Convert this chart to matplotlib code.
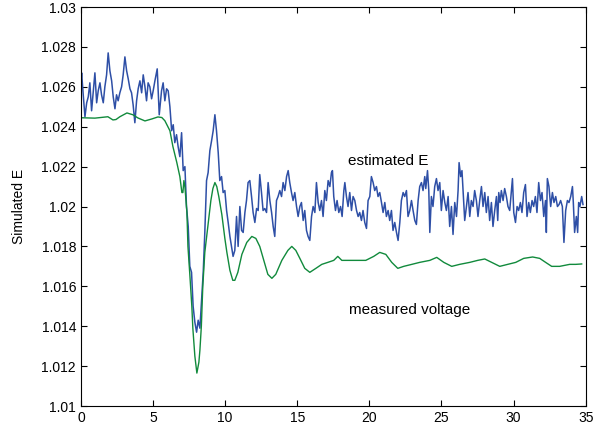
import matplotlib
matplotlib.use('Agg')
import matplotlib.pyplot as plt
from matplotlib.ticker import FormatStrFormatter

plt.rcParams['font.family'] = ['Liberation Sans', 'DejaVu Sans']

# measured voltage (smooth green trace)
meas_t = [0.0, 0.97, 1.87, 2.22, 2.43, 2.70, 3.19, 3.60, 3.95, 4.44, 4.92, 5.34, 5.61, 5.82,
          6.17, 6.38, 6.65, 6.86, 7.00, 7.07, 7.14, 7.21, 7.35, 7.42, 7.55, 7.69, 7.76, 7.90,
          8.04, 8.18, 8.25, 8.35, 8.45, 8.59, 8.80, 9.01, 9.15, 9.29, 9.42, 9.56, 9.77, 9.98,
          10.12, 10.33, 10.53, 10.67, 10.88, 11.16, 11.50, 11.85, 12.13, 12.40, 12.68, 12.96,
          13.24, 13.51, 13.93, 14.35, 14.62, 14.90, 15.18, 15.52, 15.87, 16.29, 16.70, 17.12,
          17.53, 17.81, 18.09, 18.64, 19.20, 19.75, 20.30, 20.72, 21.14, 21.55, 21.97, 22.38,
          22.94, 23.49, 24.19, 24.67, 25.16, 25.71, 26.26, 26.96, 27.51, 28.00, 28.48, 29.04,
          29.59, 30.15, 30.70, 31.32, 31.81, 32.22, 32.64, 33.19, 33.89, 34.30, 34.72]
meas_E = [1.02445, 1.02443, 1.0245, 1.02434, 1.02436, 1.0245, 1.02469, 1.0246, 1.02444, 1.02429,
          1.02439, 1.02449, 1.02446, 1.0243, 1.0238, 1.0230, 1.0222, 1.0215, 1.0207, 1.0207,
          1.0213, 1.0210, 1.0197, 1.0180, 1.0166, 1.0150, 1.0139, 1.0125, 1.01165, 1.0122,
          1.0128, 1.0140, 1.0160, 1.0177, 1.0190, 1.0203, 1.0209, 1.0212, 1.0210, 1.0205,
          1.0196, 1.0184, 1.0177, 1.0168, 1.0163, 1.0163, 1.0167, 1.0176, 1.0182, 1.0185,
          1.0184, 1.0180, 1.0173, 1.0166, 1.0164, 1.0166, 1.0173, 1.0178, 1.0180, 1.0178,
          1.0174, 1.0169, 1.0167, 1.0169, 1.0171, 1.0172, 1.0173, 1.0175, 1.0173, 1.0173,
          1.0173, 1.0173, 1.0175, 1.0177, 1.0176, 1.0172, 1.0169, 1.0170, 1.0171, 1.0172,
          1.0173, 1.01745, 1.0172, 1.0170, 1.0171, 1.0172, 1.0173, 1.01737, 1.0172, 1.0170,
          1.0171, 1.0172, 1.0174, 1.01747, 1.0174, 1.0172, 1.0170, 1.0170, 1.0171, 1.0171,
          1.01712]

# estimated E (noisy blue trace)
est_t = [0.00, 0.05, 0.16, 0.28, 0.40, 0.51, 0.62, 0.74, 0.85, 0.97, 1.09, 1.20, 1.32, 1.43,
         1.55, 1.66, 1.78, 1.89, 2.01, 2.13, 2.24, 2.36, 2.47, 2.58, 2.70, 2.82, 2.93, 3.05,
         3.17, 3.28, 3.40, 3.51, 3.62, 3.74, 3.86, 3.97, 4.09, 4.21, 4.32, 4.44, 4.55, 4.66,
         4.78, 4.90, 5.01, 5.13, 5.29, 5.43, 5.59, 5.70, 5.82, 5.94,
         6.05, 6.17, 6.29, 6.40, 6.51, 6.63, 6.74, 6.86, 6.98, 7.09, 7.21, 7.32, 7.44, 7.55,
         7.67, 7.78, 7.90, 8.02, 8.13, 8.25, 8.36, 8.48, 8.59, 8.71, 8.82, 8.94, 9.06, 9.17,
         9.29, 9.40, 9.52, 9.63, 9.75, 9.86, 9.98, 10.10, 10.21, 10.33, 10.44, 10.55, 10.67,
         10.79, 10.90, 11.02, 11.14, 11.25, 11.37, 11.48, 11.59, 11.71, 11.83, 11.94, 12.06,
         12.18, 12.29, 12.40, 12.52, 12.63, 12.75, 12.87, 12.98, 13.10, 13.22, 13.33, 13.44,
         13.56, 13.67, 13.79, 13.91, 14.02, 14.14, 14.26, 14.37, 14.48, 14.60, 14.71, 14.83,
         14.95, 15.06, 15.18, 15.29, 15.41, 15.52, 15.64, 15.75, 15.87, 15.99, 16.10, 16.22,
         16.33, 16.45, 16.56, 16.68, 16.79,
         16.91, 17.02, 17.14, 17.26, 17.37, 17.44, 17.53, 17.65, 17.76, 17.88, 18.00, 18.11,
         18.23, 18.30, 18.41, 18.52, 18.64, 18.76, 18.87, 18.99, 19.11, 19.22, 19.33, 19.45,
         19.56, 19.68, 19.80, 19.91, 20.03, 20.14, 20.26, 20.37, 20.49, 20.60, 20.72, 20.84,
         20.95, 21.07, 21.18, 21.30, 21.41, 21.53, 21.64, 21.76, 21.88, 21.99, 22.11, 22.22,
         22.34, 22.45, 22.57, 22.68,
         22.80, 22.92, 23.03, 23.15, 23.26, 23.38, 23.49, 23.61, 23.72, 23.84, 23.91, 24.03,
         24.12, 24.19, 24.30, 24.41, 24.53, 24.65, 24.76, 24.88, 24.99, 25.11, 25.23, 25.34,
         25.46, 25.57, 25.69, 25.80, 25.92, 26.04, 26.15, 26.22, 26.33, 26.42, 26.54, 26.61,
         26.73, 26.84, 26.96, 27.07, 27.19, 27.30, 27.42, 27.53, 27.65, 27.77, 27.88, 28.00,
         28.11, 28.23, 28.34, 28.46, 28.57, 28.69,
         28.81, 28.90, 28.97, 29.06, 29.15, 29.27, 29.38, 29.50, 29.61, 29.73, 29.85, 29.92,
         30.01, 30.13, 30.24, 30.35, 30.47, 30.58, 30.70, 30.82, 30.93, 31.05, 31.16, 31.28,
         31.39, 31.51, 31.62, 31.74, 31.86, 31.97, 32.09, 32.21, 32.27, 32.34, 32.45, 32.57,
         32.69, 32.80, 32.92, 33.04, 33.15, 33.26, 33.38, 33.49, 33.61, 33.73, 33.84, 33.96,
         34.08, 34.14, 34.23, 34.35, 34.44, 34.51, 34.60, 34.72, 34.81]
est_E = [1.0262, 1.0267, 1.0256, 1.0245, 1.0252, 1.0255, 1.0262, 1.0248, 1.0257, 1.0267,
         1.0252, 1.0258, 1.0262, 1.0256, 1.0252, 1.0260, 1.0266, 1.0277, 1.0268, 1.0263,
         1.0255, 1.0249, 1.0256, 1.0253, 1.0257, 1.0260, 1.0266, 1.0275, 1.0268, 1.0264,
         1.0259, 1.0257, 1.0251, 1.0242, 1.0253, 1.0259, 1.0263, 1.0257, 1.0266, 1.0260,
         1.0253, 1.0262, 1.0260, 1.0254, 1.0258, 1.0263, 1.0269, 1.0246, 1.0258, 1.0262,
         1.0253, 1.0259,
         1.0258, 1.0250, 1.0238, 1.0241, 1.0232, 1.0236, 1.0230, 1.0225, 1.0237, 1.0218,
         1.0220, 1.0200, 1.0190, 1.0170, 1.0167, 1.0150, 1.0142, 1.0137, 1.0143, 1.0139,
         1.0152, 1.0167, 1.0187, 1.0213, 1.0217, 1.0228, 1.0233, 1.0238, 1.0246, 1.0238,
         1.0227, 1.0213, 1.0215, 1.0207, 1.0208, 1.0198, 1.0192, 1.0185, 1.0180, 1.0175,
         1.0178,
         1.0195, 1.0180, 1.0200, 1.0188, 1.0187, 1.0197, 1.0203, 1.0212, 1.0213, 1.0205,
         1.0197, 1.0192, 1.0199, 1.0198, 1.0216, 1.0207, 1.0198, 1.0199, 1.0197, 1.0212,
         1.0203, 1.0197, 1.0190, 1.0185, 1.0203, 1.0205, 1.0208, 1.0205, 1.0212, 1.0208,
         1.0215, 1.0218, 1.0212, 1.0207, 1.0203, 1.0207, 1.0200, 1.0195, 1.0200, 1.0202,
         1.0193, 1.0198, 1.0188, 1.0185, 1.0183, 1.0195, 1.0200, 1.0197, 1.0212, 1.0202,
         1.0198, 1.0203, 1.0195,
         1.0208, 1.0203, 1.0213, 1.0210, 1.0217, 1.0218, 1.0205, 1.0198, 1.0203, 1.0197,
         1.0200, 1.0195, 1.0208, 1.0212, 1.0205, 1.0200, 1.0207, 1.0198, 1.0205, 1.0203,
         1.0198, 1.0195, 1.0197, 1.0193, 1.0198, 1.0192, 1.0189, 1.0203, 1.0205, 1.0215,
         1.0212, 1.0208, 1.0210, 1.0205, 1.0207, 1.0202, 1.0197, 1.0202, 1.0195, 1.0198,
         1.0193, 1.0198, 1.0188, 1.0192, 1.0187, 1.0183, 1.0192, 1.0203, 1.0207, 1.0205,
         1.0208, 1.0195,
         1.0198, 1.0203, 1.0198, 1.0193, 1.0191, 1.0203, 1.0210, 1.0212, 1.0208, 1.0215,
         1.0209, 1.0218, 1.0208, 1.0187, 1.0205, 1.0200, 1.0210, 1.0214, 1.0208, 1.0212,
         1.0198, 1.0208, 1.0202, 1.0198, 1.0205, 1.0190, 1.0200, 1.0186, 1.0202, 1.0195,
         1.0208, 1.0222, 1.0215, 1.0218, 1.0202, 1.0193, 1.0200, 1.0207, 1.0195, 1.0203,
         1.0200, 1.0208, 1.0203, 1.0195, 1.0203, 1.0210, 1.0200, 1.0207, 1.0197, 1.0205,
         1.0193, 1.0202, 1.0190, 1.0198,
         1.0205, 1.0193, 1.0207, 1.0202, 1.0208, 1.0203, 1.0209, 1.0205, 1.0200, 1.0198,
         1.0208, 1.0214, 1.0197, 1.0192, 1.0200, 1.0198, 1.0202, 1.0197, 1.0207, 1.0211,
         1.0195, 1.0202, 1.0197, 1.0203, 1.0200, 1.0205, 1.0197, 1.0212, 1.0203, 1.0207,
         1.0195, 1.0203, 1.0187, 1.0214, 1.0210, 1.0200, 1.0207, 1.0202, 1.0205, 1.0200,
         1.0201, 1.0203, 1.0200, 1.0182, 1.0198, 1.0203, 1.0202, 1.0205, 1.0210, 1.0202,
         1.0187, 1.0195, 1.0187, 1.0202, 1.0200, 1.0205, 1.0201]

fig = plt.figure(figsize=(6.13, 4.28), dpi=100)
ax = fig.add_axes([0.132, 0.0514, 0.8235, 0.9322])

ax.plot(est_t, est_E, color='#2e4fa6', linewidth=1.1)
ax.plot(meas_t, meas_E, color='#118a3c', linewidth=1.0)

ax.text(21.3, 1.0223, 'estimated E', fontsize=11, ha='center', va='center')
ax.text(22.8, 1.0148, 'measured voltage', fontsize=11, ha='center', va='center')

ax.set_xlim(0, 35)
ax.set_ylim(1.01, 1.03)
ax.set_xticks(range(0, 36, 5))
ax.set_yticks([1.01 + 0.002 * i for i in range(11)])
ax.yaxis.set_major_formatter(FormatStrFormatter('%g'))
ax.tick_params(direction='in', top=True, right=True, labelsize=10, length=4, width=0.8)
ax.set_ylabel('Simulated E', fontsize=10, labelpad=11)
for s in ax.spines.values():
    s.set_linewidth(0.8)

fig.savefig('out.png', dpi=100)
